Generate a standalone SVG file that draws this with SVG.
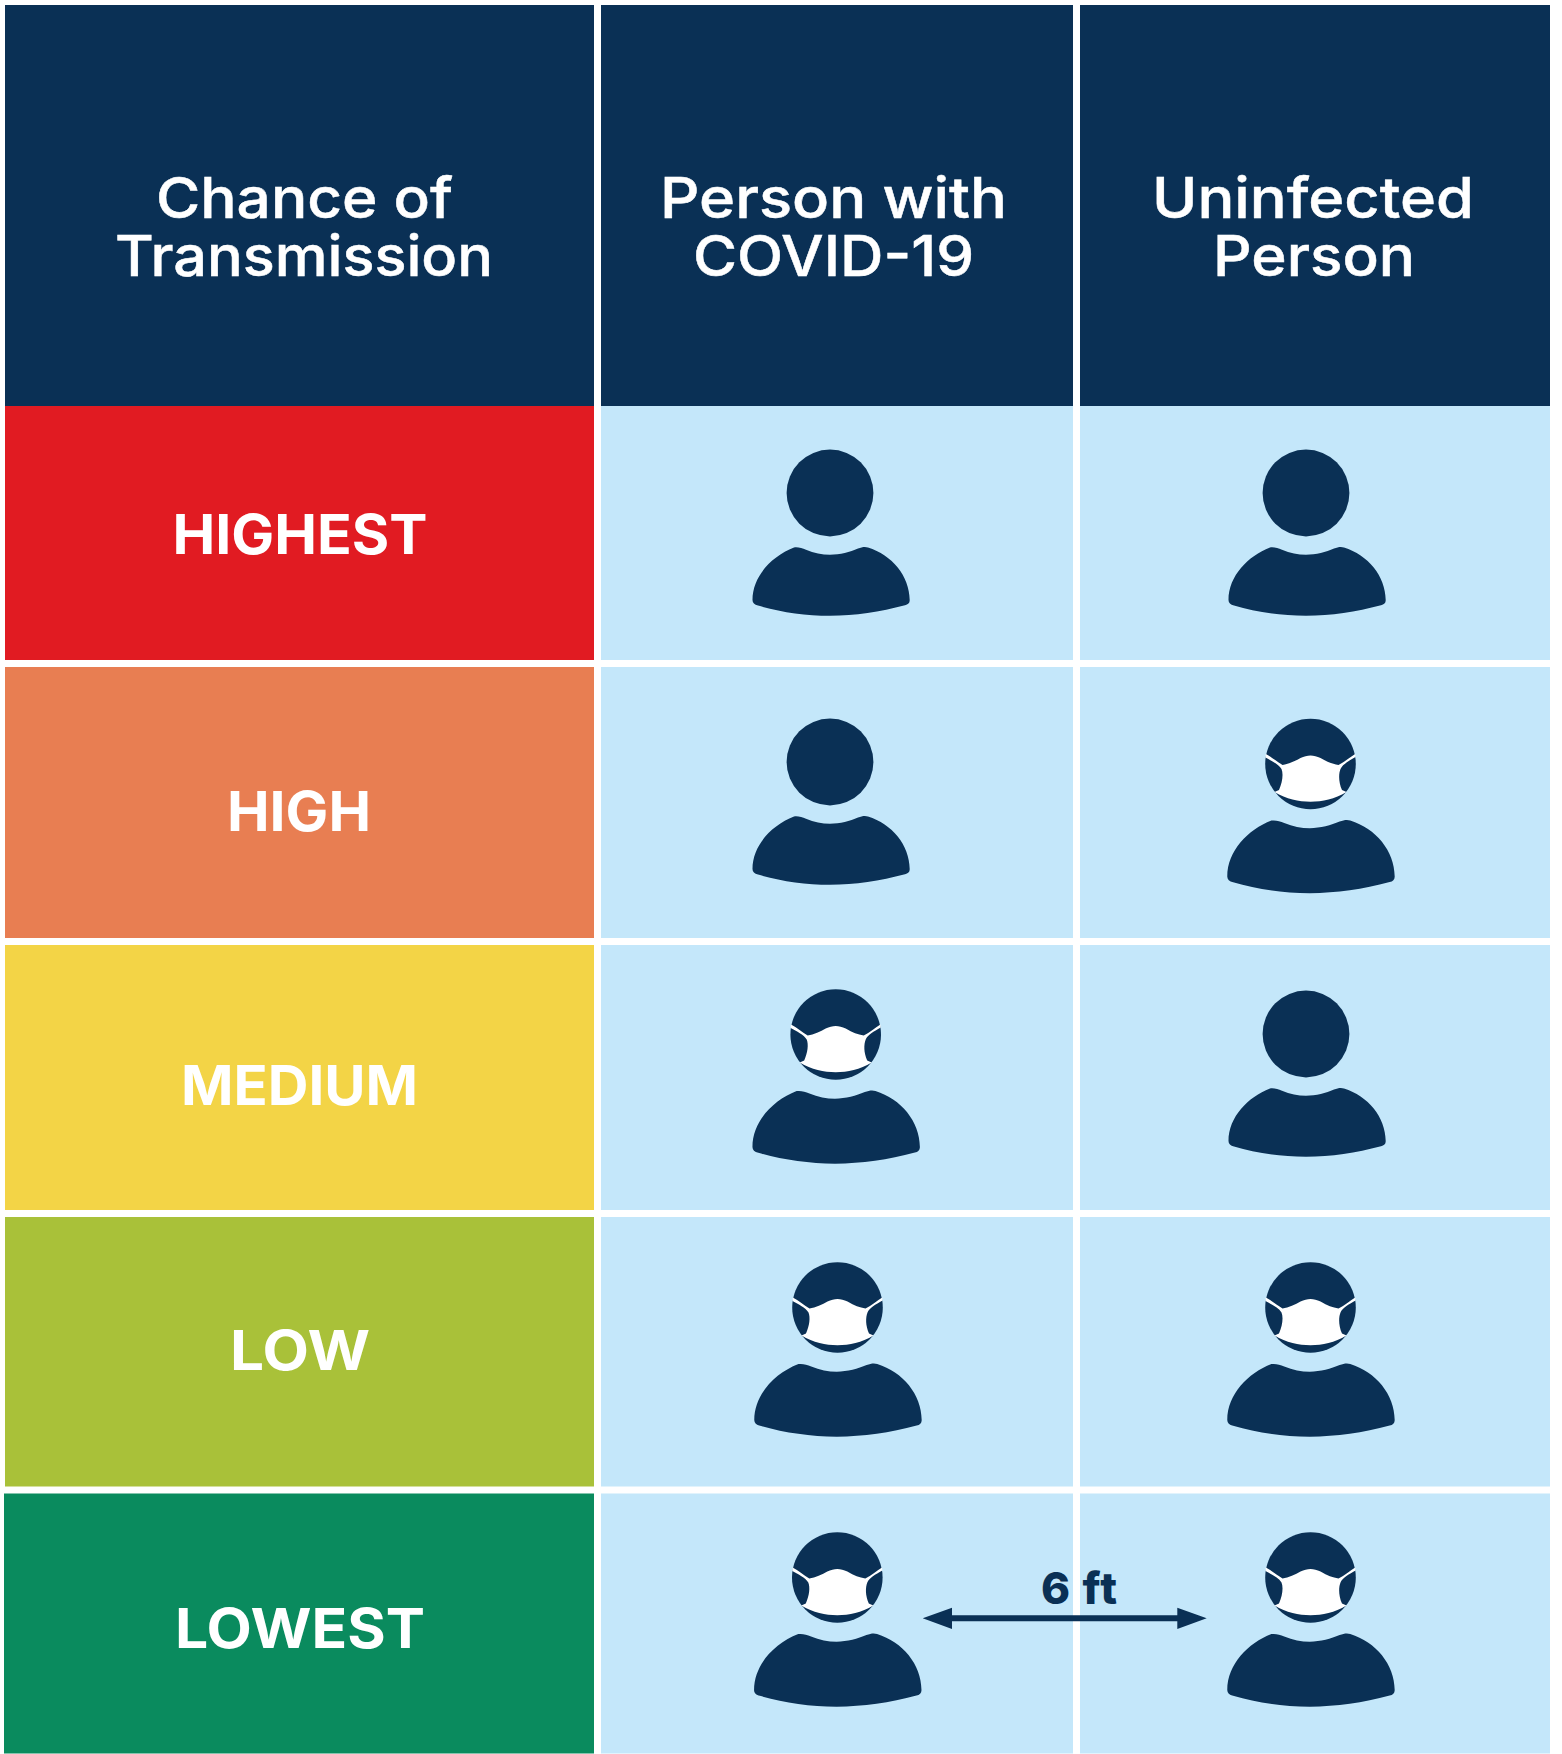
<svg xmlns="http://www.w3.org/2000/svg" width="1562" height="1754" viewBox="0 0 1562 1754">
<style>
.h{font-family:Inter,"Liberation Sans",sans-serif;font-size:56px;font-weight:500;fill:#fff;stroke:#fff;stroke-width:.5px;text-anchor:start}
.r{font-family:Inter,"Liberation Sans",sans-serif;font-size:55px;font-weight:700;fill:#fff}
.navy{fill:#0A3055}.lb{fill:#C4E7FA}
</style>
<defs>
<path id="body" d="M-36 54.5C-32 54-28 55-24 56.7C-16 60-8 61.7 0 61.7C10 61.7 20 59 28 55.5C32 54 35 53.5 38 54.5C62 62 79.5 83 79.7 107C79.8 110 78 111.5 75 112.3C50 119 25 122.7 0 122.7C-25 122.7-50 119-72 112.5C-75.5 111.5-77.5 110-77.5 107C-77.5 83-58 63-36 54.5Z"/>
<g id="plain"><circle r="43.4" class="navy"/><use href="#body" class="navy"/></g>
<g id="masked"><circle r="45.3" class="navy"/><use href="#body" class="navy" transform="translate(-0.7 -1.5) scale(1.065)"/>
<path fill="#fff" d="M-44.7-10C-39-7-33-2-28 1C-22 0-15-3-10-6C-3-9.5 3-9.5 10-6C17-2 22 0 28 1C34-2 40-7 44.7-10L45-7C38-3 32 .5 30 5C28 10 28 18 31.5 26L36 28C24 35 12 37.7 0 37.7C-12 37.7-24 35-36 28L-31.5 26C-28 18-27 10-29 5C-32 0-39-3-45-6.5Z"/></g>
</defs>
<rect width="1562" height="1754" fill="#fff"/>
<g id="header">
<rect x="5" y="5" width="589" height="401" class="navy"/>
<rect x="601" y="5" width="472" height="401" class="navy"/>
<rect x="1080" y="5" width="470" height="401" class="navy"/>
<text class="h" x="156" y="218" textLength="297" lengthAdjust="spacingAndGlyphs">Chance of</text>
<text class="h" x="115" y="276" textLength="378" lengthAdjust="spacingAndGlyphs">Transmission</text>
<text class="h" x="660" y="218" textLength="347" lengthAdjust="spacingAndGlyphs">Person with</text>
<text class="h" x="693" y="276" textLength="281" lengthAdjust="spacingAndGlyphs">COVID-19</text>
<text class="h" x="1152" y="218" textLength="322" lengthAdjust="spacingAndGlyphs">Uninfected</text>
<text class="h" x="1213" y="275.5" textLength="202" lengthAdjust="spacingAndGlyphs">Person</text>
</g>
<g id="row-highest">
<rect x="5" y="406" width="589" height="254" fill="#E11B22"/>
<rect x="601" y="406" width="472" height="254" class="lb"/><rect x="1080" y="406" width="470" height="254" class="lb"/>
<text class="r" x="172.5" y="554" textLength="255" lengthAdjust="spacingAndGlyphs">HIGHEST</text>
<use href="#plain" x="830" y="493"/><use href="#plain" x="1306" y="493"/>
</g>
<g id="row-high">
<rect x="5" y="667" width="589" height="271" fill="#E87E52"/>
<rect x="601" y="667" width="472" height="271" class="lb"/><rect x="1080" y="667" width="470" height="271" class="lb"/>
<text class="r" x="227" y="831" textLength="144" lengthAdjust="spacingAndGlyphs">HIGH</text>
<use href="#plain" x="830" y="762"/><use href="#masked" x="1310.5" y="764"/>
</g>
<g id="row-medium">
<rect x="5" y="945" width="589" height="265" fill="#F3D446"/>
<rect x="601" y="945" width="472" height="265" class="lb"/><rect x="1080" y="945" width="470" height="265" class="lb"/>
<text class="r" x="181" y="1105" textLength="237" lengthAdjust="spacingAndGlyphs">MEDIUM</text>
<use href="#masked" x="835.7" y="1034.5"/><use href="#plain" x="1306" y="1034"/>
</g>
<g id="row-low">
<rect x="5" y="1217" width="589" height="269.5" fill="#A9C139"/>
<rect x="601" y="1217" width="472" height="269.5" class="lb"/><rect x="1080" y="1217" width="470" height="269.5" class="lb"/>
<text class="r" x="230" y="1370" textLength="140" lengthAdjust="spacingAndGlyphs">LOW</text>
<use href="#masked" x="837.5" y="1307.5"/><use href="#masked" x="1310.5" y="1307.5"/>
</g>
<g id="row-lowest">
<rect x="4" y="1493.5" width="590" height="260" fill="#0A8B5E"/>
<rect x="601" y="1493.5" width="472" height="260" class="lb"/><rect x="1080" y="1493.5" width="470" height="260" class="lb"/>
<text class="r" x="175" y="1648" textLength="250" lengthAdjust="spacingAndGlyphs">LOWEST</text>
<use href="#masked" x="837.3" y="1577.5"/><use href="#masked" x="1310.5" y="1577.5"/>
</g>
<g id="connectors">
<path class="navy" d="M922.7 1618.3L952 1607.7V1615.3H1177.3V1607.7L1206.7 1618.3L1177.3 1629V1621.3H952V1629Z"/>
<text x="1041" y="1604" font-family="Inter,'Liberation Sans',sans-serif" font-size="44" font-weight="800" class="navy" textLength="76">6 ft</text>
</g>
</svg>
